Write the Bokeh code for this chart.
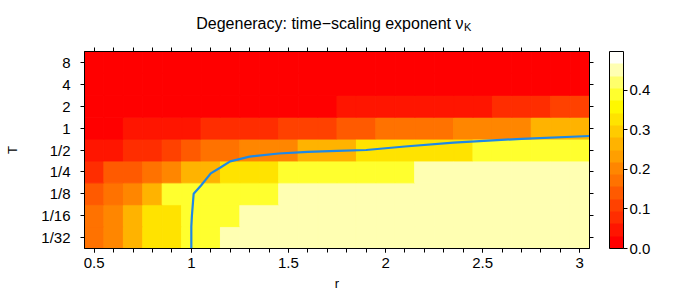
from bokeh.plotting import figure
from bokeh.layouts import column
from bokeh.models import (ColumnDataSource, LinearColorMapper, ColorBar, FixedTicker,
                          LinearAxis, Range1d, PrintfTickFormatter, CustomJSTickFormatter)
from bokeh.core.properties import value
from bokeh.embed import file_html
from bokeh.resources import INLINE

# ---------------- data ----------------
r_values = [0.5, 0.6, 0.7, 0.8, 0.9, 1.0, 1.1, 1.2, 1.3, 1.4, 1.5, 1.6, 1.7,
            1.8, 1.9, 2.0, 2.1, 2.2, 2.3, 2.4, 2.5, 2.6, 2.7, 2.8, 2.9, 3.0]
T_labels = ["1/32", "1/16", "1/8", "1/4", "1/2", "1", "2", "4", "8"]
T_log2 = [-5, -4, -3, -2, -1, 0, 1, 2, 3]
x_tick_values = [0.5, 1.0, 1.5, 2.0, 2.5, 3.0]
x_tick_labels = ["0.5", "1", "1.5", "2", "2.5", "3"]
cb_ticks = [0.0, 0.1, 0.2, 0.3, 0.4]
nu_min, nu_max = 0.0, 0.4975

nu_T8 = [0.000, 0.001, 0.001, 0.001, 0.002, 0.002, 0.002, 0.002, 0.002, 0.003, 0.003, 0.003, 0.003,
         0.003, 0.003, 0.003, 0.004, 0.004, 0.004, 0.004, 0.004, 0.004, 0.004, 0.005, 0.005, 0.005]
nu_T4 = [0.006, 0.006, 0.007, 0.007, 0.007, 0.008, 0.008, 0.008, 0.008, 0.009, 0.009, 0.011, 0.011,
         0.011, 0.011, 0.012, 0.012, 0.012, 0.012, 0.012, 0.013, 0.013, 0.017, 0.017, 0.018, 0.018]
nu_T2 = [0.011, 0.012, 0.012, 0.013, 0.019, 0.020, 0.020, 0.021, 0.021, 0.025, 0.026, 0.026, 0.027,
         0.035, 0.036, 0.037, 0.038, 0.046, 0.048, 0.049, 0.050, 0.074, 0.077, 0.079, 0.103, 0.107]
nu_T1 = [0.025, 0.026, 0.039, 0.040, 0.042, 0.052, 0.065, 0.067, 0.084, 0.087, 0.108, 0.110, 0.113,
         0.138, 0.142, 0.167, 0.170, 0.172, 0.175, 0.198, 0.201, 0.204, 0.206, 0.258, 0.262, 0.265]
nu_T1_2 = [0.047, 0.058, 0.079, 0.081, 0.108, 0.140, 0.168, 0.172, 0.198, 0.201, 0.204, 0.258, 0.262,
           0.266, 0.322, 0.326, 0.328, 0.330, 0.332, 0.334, 0.385, 0.388, 0.390, 0.392, 0.394, 0.396]
nu_T1_4 = [0.085, 0.138, 0.142, 0.170, 0.200, 0.260, 0.265, 0.325, 0.328, 0.332, 0.384, 0.387, 0.389,
           0.391, 0.393, 0.395, 0.397, 0.442, 0.445, 0.447, 0.449, 0.450, 0.451, 0.452, 0.453, 0.454]
nu_T1_8 = [0.140, 0.170, 0.200, 0.262, 0.386, 0.390, 0.393, 0.396, 0.398, 0.400, 0.445, 0.447, 0.449,
           0.450, 0.451, 0.452, 0.453, 0.454, 0.455, 0.455, 0.456, 0.456, 0.457, 0.457, 0.458, 0.458]
nu_T1_16 = [0.172, 0.202, 0.264, 0.326, 0.334, 0.388, 0.394, 0.399, 0.446, 0.449, 0.451, 0.452, 0.453,
            0.454, 0.455, 0.456, 0.456, 0.457, 0.457, 0.458, 0.458, 0.459, 0.459, 0.459, 0.460, 0.460]
nu_T1_32 = [0.174, 0.204, 0.266, 0.328, 0.336, 0.390, 0.397, 0.447, 0.450, 0.452, 0.453, 0.454, 0.455,
            0.456, 0.457, 0.457, 0.458, 0.458, 0.459, 0.459, 0.460, 0.460, 0.460, 0.461, 0.461, 0.461]

# boundary curve (r, log2 T)
line_r = [1.0, 1.0, 1.003, 1.012, 1.05, 1.10, 1.15, 1.20, 1.30, 1.45, 1.60, 1.75, 1.90,
          2.10, 2.35, 2.70, 3.05]
line_log2T = [-5.5, -4.5, -4.0, -3.0, -2.62, -2.07, -1.80, -1.52, -1.30, -1.16, -1.09, -1.04, -1.00,
              -0.84, -0.66, -0.49, -0.36]

title_main = "Degeneracy: time\u2212scaling exponent \u03bd"
title_sub = "K"

# ---------------- style ----------------
FONT = "Liberation Sans"
heat16 = ["#FF0000", "#FF1500", "#FF2D00", "#FF4100", "#FF5A00", "#FF7200", "#FF8600", "#FF9F00",
          "#FFB300", "#FFCB00", "#FFE300", "#FFF800", "#FFFF2E", "#FFFF6B", "#FFFFB2", "#FFFFFA"]

rows = [nu_T1_32, nu_T1_16, nu_T1_8, nu_T1_4, nu_T1_2, nu_T1, nu_T2, nu_T4, nu_T8]
xs, ys, zs = [], [], []
for yv, row in zip(T_log2, rows):
    for xv, z in zip(r_values, row):
        xs.append(xv)
        ys.append(yv)
        zs.append(z)
src = ColumnDataSource(dict(r=xs, t=ys, nu=zs))

mapper = LinearColorMapper(palette=heat16, low=nu_min, high=nu_max)

# frame of the main plot in page pixels
FL, FR = 84, 589

# --- title strip (its frame is aligned with the main frame by the column layout) ---
TH = 36
tf = figure(width=673, height=TH, x_range=Range1d(FL, FR), y_range=Range1d(0, TH),
            output_backend="svg", toolbar_location=None,
            x_axis_type=None, y_axis_type=None,
            min_border_left=FL, min_border_right=673 - FR, min_border_top=0, min_border_bottom=0)
tf.outline_line_color = None
tf.grid.visible = False
tf.background_fill_color = "white"
tf.border_fill_color = "white"
tf.text(x=[463], y=[TH - 23], text=[title_main], text_align="right", text_baseline="alphabetic",
        text_font=value(FONT), text_font_size="16px", text_color="black")
tf.text(x=[463.5], y=[TH - 26.5], text=[title_sub], text_align="left", text_baseline="alphabetic",
        text_font=value(FONT), text_font_size="11px", text_color="black")

# --- main plot ---
p = figure(width=673, height=293 - TH,
           x_range=Range1d(0.45, 3.05), y_range=Range1d(-5.5, 3.5),
           output_backend="svg", toolbar_location=None,
           min_border_left=FL, min_border_right=673 - FR, min_border_top=15, min_border_bottom=45)
p.background_fill_color = "white"
p.border_fill_color = "white"
p.outline_line_color = "black"
p.outline_line_width = 1
p.grid.visible = False

p.rect(x="r", y="t", width=0.1, height=1, source=src,
       fill_color={"field": "nu", "transform": mapper},
       line_color={"field": "nu", "transform": mapper}, line_width=1.0)
p.line(x=line_r, y=line_log2T, line_color="#1E88E5", line_width=2.2)

def style_axis(ax):
    ax.axis_line_color = "black"
    ax.major_tick_line_color = "black"
    ax.minor_tick_line_color = "black"
    ax.major_tick_in = 0
    ax.major_tick_out = 4
    ax.minor_tick_in = 0
    ax.minor_tick_out = 4
    ax.major_label_text_font = FONT
    ax.major_label_text_font_size = "15px"
    ax.major_label_text_color = "black"
    ax.axis_label_text_font = FONT
    ax.axis_label_text_font_size = "13px"
    ax.axis_label_text_font_style = "normal"
    ax.axis_label_text_color = "black"

xa = p.xaxis[0]
style_axis(xa)
xa.ticker = FixedTicker(ticks=x_tick_values, minor_ticks=r_values)
xa.major_label_overrides = dict(zip(x_tick_values, x_tick_labels))
xa.axis_label = "r"
xa.axis_label_standoff = 5
xa.major_label_standoff = 5

ya = p.yaxis[0]
style_axis(ya)
ya.ticker = FixedTicker(ticks=T_log2, minor_ticks=[])
ya.major_label_overrides = dict(zip(T_log2, T_labels))
ya.axis_label = "T"
ya.axis_label_standoff = 18
ya.major_label_standoff = 10

blank = CustomJSTickFormatter(code="return ''")
top = LinearAxis(ticker=FixedTicker(ticks=r_values, minor_ticks=[]), formatter=blank)
style_axis(top)
top.major_label_standoff = 0
p.add_layout(top, "above")
right = LinearAxis(ticker=FixedTicker(ticks=T_log2, minor_ticks=[]), formatter=blank)
style_axis(right)
right.major_label_standoff = 0
p.add_layout(right, "right")

# invisible spacer between the frame ticks and the colour bar
spacer = LinearAxis(ticker=FixedTicker(ticks=[0], minor_ticks=[]), formatter=blank)
spacer.axis_line_color = None
spacer.major_tick_line_color = None
spacer.minor_tick_line_color = None
spacer.major_tick_in = 0
spacer.major_tick_out = 16
spacer.major_label_standoff = 0
p.add_layout(spacer, "right")

cb = ColorBar(color_mapper=mapper, ticker=FixedTicker(ticks=cb_ticks),
              formatter=PrintfTickFormatter(format="%.1f"),
              width=14, padding=0, margin=0,
              major_tick_in=0, major_tick_out=4, major_tick_line_color="black",
              bar_line_color="black", border_line_color=None, background_fill_color=None,
              major_label_text_font=FONT, major_label_text_font_size="15px",
              major_label_text_color="black", label_standoff=2)
p.add_layout(cb, "right")

layout = column(tf, p, spacing=0)
open("out.html", "w").write(file_html(layout, INLINE))
